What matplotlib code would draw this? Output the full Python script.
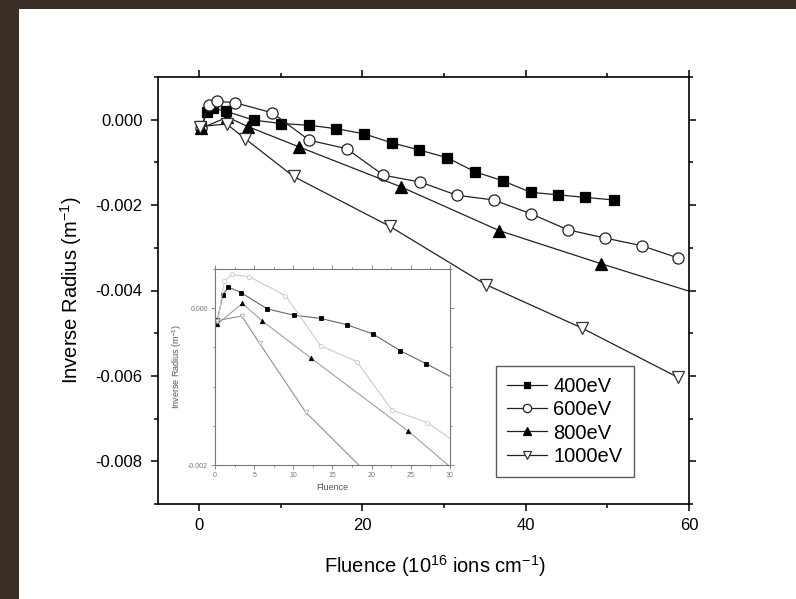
import matplotlib
matplotlib.use("Agg")
import matplotlib.pyplot as plt
from matplotlib.patches import Rectangle
from matplotlib.ticker import MultipleLocator, FormatStrFormatter

plt.rcParams['font.family'] = ['Liberation Sans', 'DejaVu Sans']
plt.rcParams['mathtext.fontset'] = 'custom'
plt.rcParams['mathtext.rm'] = 'Liberation Sans'

# Fluence (1e16 ions cm^-1) and inverse radius (m^-1) for each beam energy
fluence_400 = [0.3, 1.0, 1.7, 3.3, 6.7, 10.1, 13.5, 16.8, 20.2, 23.6, 27.0,
               30.4, 33.8, 37.2, 40.6, 44.0, 47.3, 50.8]
radius_400 = [-0.00015, 0.00017, 0.00027, 0.00020, -0.00001, -0.00009, -0.00013,
              -0.00021, -0.00033, -0.00054, -0.00071, -0.00089, -0.00122,
              -0.00143, -0.00170, -0.00176, -0.00182, -0.00188]

fluence_600 = [0.3, 1.2, 2.2, 4.4, 9.0, 13.5, 18.1, 22.6, 27.1, 31.6, 36.1,
               40.6, 45.2, 49.7, 54.2, 58.7]
radius_600 = [-0.00020, 0.00035, 0.00043, 0.00040, 0.00016, -0.00048, -0.00068,
              -0.00130, -0.00146, -0.00177, -0.00188, -0.00220, -0.00258,
              -0.00277, -0.00295, -0.00324]

fluence_800 = [0.3, 3.5, 6.0, 12.3, 24.7, 36.8, 49.2, 61.6]
radius_800 = [-0.00020, 0.00006, -0.00016, -0.00064, -0.00157, -0.00260,
              -0.00337, -0.00411]

fluence_1000 = [0.2, 3.4, 5.7, 11.6, 23.4, 35.1, 46.9, 58.6]
radius_1000 = [-0.00016, -0.00010, -0.00045, -0.00133, -0.00250, -0.00386,
               -0.00488, -0.00603]

labels = ['400eV', '600eV', '800eV', '1000eV']
x_ticks = [0, 20, 40, 60]
y_ticks = [0.000, -0.002, -0.004, -0.006, -0.008]
inset_x_ticks = [0, 5, 10, 15, 20, 25, 30]
inset_y_ticks = [0.000, -0.002]

series = [
    (fluence_400, radius_400, dict(marker='s', ms=6.5, mfc='black', mec='black')),
    (fluence_600, radius_600, dict(marker='o', ms=8, mfc='white', mec='#222222')),
    (fluence_800, radius_800, dict(marker='^', ms=8.5, mfc='black', mec='black')),
    (fluence_1000, radius_1000, dict(marker='v', ms=8.5, mfc='white', mec='#333333')),
]

fig = plt.figure(figsize=(7.96, 5.99), dpi=100)
fig.patch.set_facecolor('#3a3027')
fig.patches.append(Rectangle((19 / 796, 0), 1 - 19 / 796, 590 / 599,
                             transform=fig.transFigure, facecolor='white',
                             edgecolor='none', zorder=-10))

ax = fig.add_axes([158 / 796, 95 / 599, 531 / 796, 427 / 599])
ax.set_facecolor('white')
for (x, y, style), lab in zip(series, labels):
    ax.plot(x, y, color='#222222', lw=0.9, mew=0.9, label=lab, **style)

ax.set_xlim(-5, 60)
ax.set_ylim(-0.009, 0.001)
ax.set_xticks(x_ticks)
ax.set_yticks(y_ticks)
ax.xaxis.set_minor_locator(MultipleLocator(10))
ax.yaxis.set_minor_locator(MultipleLocator(0.001))
ax.yaxis.set_major_formatter(FormatStrFormatter('%.3f'))
ax.tick_params(which='both', direction='out', top=True, right=True,
               width=1.1, labelsize=12)
ax.tick_params(which='major', length=5)
ax.tick_params(which='minor', length=3)
ax.tick_params(axis='y', which='major', pad=6)
ax.tick_params(axis='x', which='major', pad=5)
for sp in ax.spines.values():
    sp.set_linewidth(1.2)
ax.set_xlabel('Fluence (10$^{16}$ ions cm$^{-1}$)', fontsize=14.5)
ax.xaxis.set_label_coords(0.521, -0.115)
ax.set_ylabel('Inverse Radius (m$^{-1}$)', fontsize=14.5, labelpad=8)

leg = ax.legend(loc='upper left', bbox_to_anchor=(0.6365, 0.3232),
                borderaxespad=0, fontsize=14.5, frameon=True, fancybox=False,
                edgecolor='#333333', handlelength=2.0, handletextpad=0.3,
                labelspacing=0.21, borderpad=0.55, markerscale=0.75)
leg.get_frame().set_linewidth(1.0)

# Inset: early-fluence detail
inset = fig.add_axes([215 / 796, 134 / 599, 235 / 796, 196 / 599])
inset.set_facecolor('white')
inset_styles = [
    dict(color='#666666', marker='s', ms=2.8, mfc='black', mec='black'),
    dict(color='#cccccc', marker='o', ms=3.0, mfc='white', mec='#c8c8c8'),
    dict(color='#a0a0a0', marker='^', ms=3.2, mfc='black', mec='black'),
    dict(color='#909090', marker='v', ms=3.2, mfc='white', mec='#b0b0b0'),
]
for (x, y, _), st in zip(series, inset_styles):
    inset.plot(x, y, lw=0.8, mew=0.6, **st)
inset.set_xlim(0, 30)
inset.set_ylim(-0.002, 0.0005)
inset.set_xticks(inset_x_ticks)
inset.set_yticks(inset_y_ticks)
inset.xaxis.set_minor_locator(MultipleLocator(2.5))
inset.yaxis.set_minor_locator(MultipleLocator(0.0005))
inset.yaxis.set_major_formatter(FormatStrFormatter('%.3f'))
inset.tick_params(which='both', direction='out', top=True, right=True,
                  width=0.6, labelsize=5, colors='#777777', pad=2)
inset.tick_params(which='major', length=3)
inset.tick_params(which='minor', length=1.5)
for sp in inset.spines.values():
    sp.set_linewidth(0.8)
    sp.set_color('#777777')
inset.set_xlabel('Fluence', fontsize=6.5, color='#555555', labelpad=3)
inset.set_ylabel('Inverse Radius (m$^{-1}$)', fontsize=6.5, color='#555555',
                 labelpad=3)

fig.savefig('out.png', dpi=100, facecolor=fig.get_facecolor())
